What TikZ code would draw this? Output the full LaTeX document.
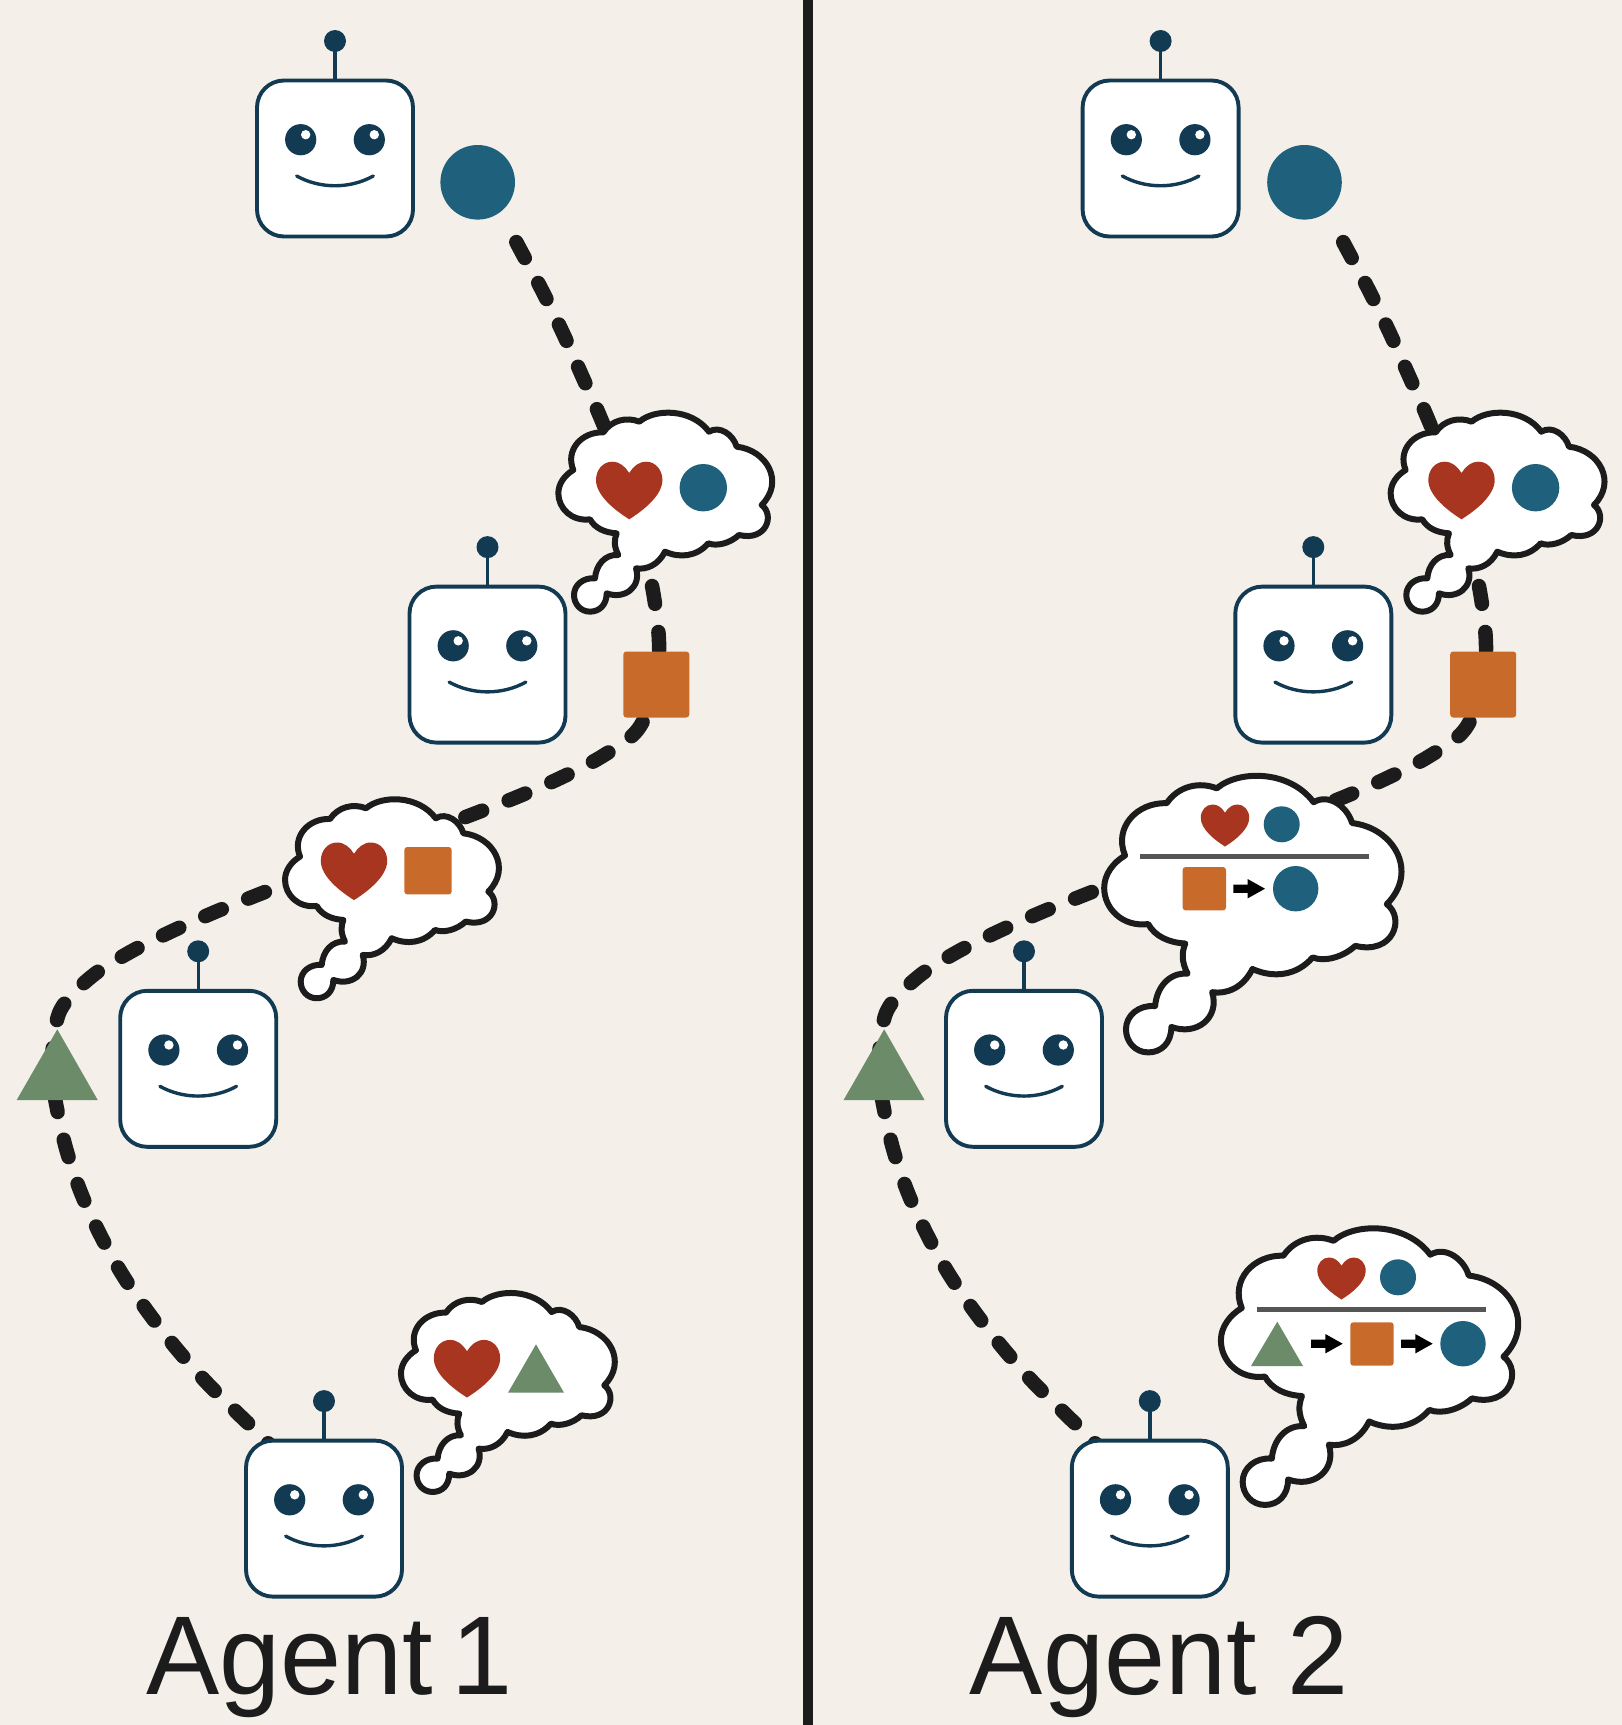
\documentclass[tikz,border=0pt]{standalone}
\usepackage{fontspec}
\setmainfont{Liberation Sans}[FakeStretch=0.98]
\usetikzlibrary{backgrounds}
\definecolor{paper}{HTML}{F4F0E9}
\definecolor{ink}{HTML}{1C1C1C}
\definecolor{robotblue}{HTML}{123A52}
\definecolor{ballblue}{HTML}{1F617C}
\definecolor{boxorange}{HTML}{C86B2A}
\definecolor{trigreen}{HTML}{6B8B69}
\definecolor{heartred}{HTML}{A8351F}
\tikzset{
  roboface/.style={draw=robotblue,fill=white,line width=1.95pt,rounded corners=13.5pt,
    minimum width=78pt,minimum height=78pt,inner sep=0pt},
  roboline/.style={draw=robotblue,line width=1.7pt,line cap=round},
  trailline/.style={draw=ink,line width=7.25pt,line cap=round,dash pattern=on 9pt off 14.2pt},
  bigball/.style={circle,fill=ballblue,inner sep=0pt,minimum size=37.3pt},
  bigbox/.style={rectangle,fill=boxorange,inner sep=0pt,rounded corners=1.5pt,minimum size=33pt},
  cloudline/.style={draw=ink,fill=white,line width=3pt,line join=round},
  caption/.style={anchor=base west,inner sep=0pt,text=ink,font=\fontsize{56pt}{60pt}\selectfont},
  robot/.pic={
    \node[roboface] (-box) at (0,0) {};
    \fill[robotblue] (0,-117.5) circle[radius=11];
    \draw[draw=robotblue,line width=1.7pt] (0,-117.5) -- (-box.north);
    \foreach \sx in {-1,1}{
      \fill[robotblue] (\sx*34.3,-18.8) circle[radius=15.6];
      \fill[white] (\sx*34.3+5,-23.8) circle[radius=4.7];
    }
    \draw[roboline] (-38.3,17.5) .. controls (-15,30.5) and (15,30.5) .. (38.3,17.5);
  },
  thought/.pic={
    \path[cloudline] (298,65)
      .. controls (345,25) and (455,25) .. (507,95)
      .. controls (540,75) and (580,105) .. (590,140)
      .. controls (680,150) and (735,245) .. (665,315)
      .. controls (705,345) and (680,425) .. (597,405)
      .. controls (570,430) and (530,440) .. (505,430)
      .. controls (470,470) and (420,475) .. (375,455)
      .. controls (355,495) and (320,510) .. (288,505)
      .. controls (305,560) and (255,600) .. (200,580)
      .. controls (200,615) and (178,635) .. (150,635)
      .. controls (122,635) and (102,612) .. (102,585)
      .. controls (102,555) and (130,532) .. (165,535)
      .. controls (168,495) and (195,462) .. (235,465)
      .. controls (222,440) and (222,420) .. (230,400)
      .. controls (195,398) and (165,385) .. (150,358)
      .. controls (95,365) and (55,325) .. (55,280)
      .. controls (55,250) and (75,225) .. (100,210)
      .. controls (75,150) and (125,95) .. (190,97)
      .. controls (215,60) and (260,50) .. (298,65) -- cycle;
  },
  heart/.pic={
    \fill[heartred] (0,28.8)
      .. controls (-14,20) and (-33.2,5) .. (-33.2,-10.5)
      .. controls (-33.2,-21) and (-26,-28.8) .. (-17,-28.8)
      .. controls (-9.5,-28.8) and (-4,-24) .. (0,-17.5)
      .. controls (4,-24) and (9.5,-28.8) .. (17,-28.8)
      .. controls (26,-28.8) and (33.2,-21) .. (33.2,-10.5)
      .. controls (33.2,5) and (14,20) .. (0,28.8) -- cycle;
  },
  arrowmark/.pic={
    \fill[black] (0,-4.2) -- (14.3,-4.2) -- (14.3,-9.7) -- (31.7,0) -- (14.3,9.7) -- (14.3,4.2) -- (0,4.2) -- cycle;
  },
}
\newcommand{\trailpath}[5]{%
  \begin{scope}[shift={(#5,0)}]
  \draw[trailline] plot[smooth,tension=0.55] coordinates {(#1)
    (520.5,250) (542.3,290.8) (562.7,332.5) (581.7,375) (600.5,417.6) (618,462) (632,506) (644,550) (653.7,595.3) (659,642)
    (#2)
    (637.7,729.7) (601.5,756.7) (560.3,778) (517.8,796.7) (475.3,813.3) (431,830) (387,846.5) (344,862) (301,878) (257.3,895)
    (214.3,912.3) (172.3,931) (130.2,952) (91,977) (60.3,1010.3) (52,1056)
    (#3)
    (55.5,1101) (65.7,1147.3) (80.5,1191.5) (99.7,1233.7) (122,1274) (148.3,1312.5) (176.8,1349) (207.8,1383.8) (240.5,1416) (273,1449)
    (#4)};
  \end{scope}}
\begin{document}
\begin{tikzpicture}[x=0.5pt,y=-0.5pt]
\useasboundingbox (0,0) rectangle (1622,1725);

% targets
\node[bigball] (c1) at (477.7,182.3) {};
\node[bigball] (c2) at (1304.5,182.3) {};
\node[bigbox] (s1) at (656.3,684.5) {};
\node[bigbox] (s2) at (1483.2,684.5) {};
\coordinate (t1) at (52.7,1078);
\coordinate (t2) at (879.6,1078);
\coordinate (w1) at (516.3,242.1);
\coordinate (w2) at (1343.2,242.1);
\fill[trigreen] (57.3,1029.3) -- (97.7,1100) -- (16.7,1100) -- cycle;
\fill[trigreen] (884.2,1029.3) -- (924.6,1100) -- (843.6,1100) -- cycle;

% robots
\pic (ra) at (335,158.5) {robot};
\pic (rb) at (487.5,664.6) {robot};
\pic (rc) at (198.2,1068.8) {robot};
\pic (rd) at (324,1518.6) {robot};
\pic (re) at (1160.6,158.5) {robot};
\pic (rf) at (1313.3,664.6) {robot};
\pic (rg) at (1024,1068.8) {robot};
\pic (rh) at (1149.8,1518.6) {robot};

% ground and trails
\begin{pgfonlayer}{background}
  \fill[paper] (0,0) rectangle (1622,1725);
  \fill[ink] (803.2,0) rectangle (813.2,1725);
  \trailpath{w1}{s1}{t1}{rd-box}{0}
  \trailpath{w2}{s2}{t2}{rh-box}{826.9}
\end{pgfonlayer}

% thought clouds, agent 1
\pic[scale=0.3333] at (540,400) {thought};
\pic at (629.2,490.5) {heart};
\node[circle,fill=ballblue,inner sep=0pt,minimum size=23.7pt] (m1) at (703.3,487.7) {};

\pic[scale=0.3333] at (266.7,786.6) {thought};
\pic at (354,871.3) {heart};
\node[bigbox,minimum size=23.7pt] (m2) at (428,870.7) {};

\pic[scale=0.3333] at (382.6,1280.3) {thought};
\pic at (467,1368.7) {heart};
\fill[trigreen] (536,1344.3) -- (564,1392.7) -- (508,1392.7) -- cycle;

% thought clouds, agent 2
\pic[scale=0.3333] at (1372.3,400) {thought};
\pic at (1461.5,490.5) {heart};
\node[circle,fill=ballblue,inner sep=0pt,minimum size=23.7pt] (m3) at (1535.6,487.7) {};

\pic[scale=0.4633] at (1078.7,758.2) {thought};
\pic[scale=0.73] at (1225,825.5) {heart};
\node[circle,fill=ballblue,inner sep=0pt,minimum size=18pt] (m4) at (1281.7,824.3) {};
\draw[draw=ink!75,line width=2.35pt] (1140,856.7) -- (1369.3,856.7);
\node[bigbox,minimum size=21.7pt] (m5) at (1204.3,888.7) {};
\pic at (1233.3,888.7) {arrowmark};
\node[circle,fill=ballblue,inner sep=0pt,minimum size=22.7pt] (m6) at (1295.7,888.7) {};

\pic[scale=0.4633] at (1195.4,1210.7) {thought};
\pic[scale=0.73] at (1341.5,1278.5) {heart};
\node[circle,fill=ballblue,inner sep=0pt,minimum size=18pt] (m7) at (1398,1277.3) {};
\draw[draw=ink!75,line width=2.35pt] (1257,1309.3) -- (1486,1309.3);
\fill[trigreen] (1277.3,1321.7) -- (1303,1366) -- (1251,1366) -- cycle;
\pic at (1311,1343.7) {arrowmark};
\node[bigbox,minimum size=21.7pt] (m8) at (1372,1344) {};
\pic at (1401,1343.7) {arrowmark};
\node[circle,fill=ballblue,inner sep=0pt,minimum size=22.7pt] (m9) at (1463,1343.7) {};

% captions
\node[caption] (cap1) at (145.7,1694.3) {Agent \kern-6pt 1};
\node[caption] (cap2) at (969.5,1694.3) {Agent 2};
\end{tikzpicture}
\end{document}
